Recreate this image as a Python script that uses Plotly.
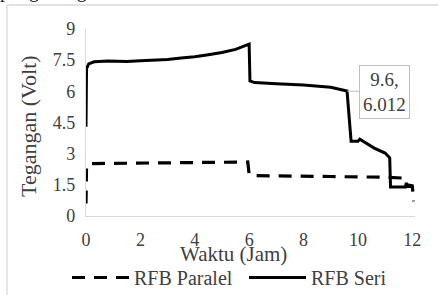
import plotly.graph_objects as go

# ---- data ----
seri_t = [0, 0.02, 0.1, 0.3, 0.8, 1.5, 2.0, 2.5, 3.0, 3.5, 4.0, 4.5, 5.0, 5.5, 5.95, 6.0,
          6.03, 6.2, 7.0, 8.0, 9.0, 9.6, 9.75, 10.0, 10.07, 10.6, 11.0, 11.17, 11.2,
          11.75, 11.78, 11.8, 12.0]
seri_v = [4.3, 7.1, 7.32, 7.42, 7.46, 7.44, 7.47, 7.49, 7.53, 7.6, 7.66, 7.76, 7.87, 8.02, 8.22, 8.27,
          6.5, 6.42, 6.36, 6.3, 6.2, 6.012, 3.6, 3.6, 3.7, 3.27, 3.03, 2.8, 1.4,
          1.4, 1.6, 1.42, 1.42]
par_t = [0, 0.02, 0.1, 1.0, 2.0, 3.0, 4.0, 5.0, 5.95, 6.0, 6.1, 7.0, 8.0, 9.0, 10.0, 11.0,
         11.75, 11.8, 12.0, 12.05]
par_v = [0.6, 2.4, 2.52, 2.53, 2.55, 2.55, 2.55, 2.57, 2.6, 2.0, 1.95, 1.93, 1.9, 1.9, 1.88, 1.87,
         1.82, 1.5, 1.45, 0.7]
x_ticks = [0, 2, 4, 6, 8, 10, 12]
y_ticks = [0, 1.5, 3, 4.5, 6, 7.5, 9]
y_tick_text = ["0", "1.5", "3", "4.5", "6", "7.5", "9"]
callout_t, callout_v = 9.6, 6.012

FONT = "Liberation Serif"
TXT = "#404040"
GRID = "#d9d9d9"

W, H = 438, 295
L, R, T, B = 86, 23, 29, 79
pw, ph = W - L - R, H - T - B


def px(xp):
    return (xp - L) / pw


def py(yp):
    return (H - B - yp) / ph


fig = go.Figure()
fig.add_trace(go.Scatter(x=par_t, y=par_v, mode="lines", name="RFB Paralel", legend="legend",
                         line=dict(color="black", width=3.2, dash="13px,9px")))
fig.add_trace(go.Scatter(x=seri_t, y=seri_v, mode="lines", name="RFB Seri", legend="legend2",
                         line=dict(color="black", width=3)))

leg_common = dict(orientation="h", yanchor="top", xanchor="left", itemwidth=57,
                  font=dict(family=FONT, size=20, color=TXT), bgcolor="rgba(0,0,0,0)")

fig.update_layout(
    width=W, height=H,
    margin=dict(l=L, r=R, t=T, b=B, pad=0, autoexpand=False),
    paper_bgcolor="white", plot_bgcolor="white",
    font=dict(family=FONT, size=18, color=TXT),
    showlegend=True,
    legend=dict(x=px(67), y=py(258), **leg_common),
    legend2=dict(x=px(244), y=py(258), **leg_common),
    xaxis=dict(range=[0, 12.1], tickvals=x_ticks, ticktext=[str(v) for v in x_ticks],
               showgrid=False, zeroline=False, showline=True, linecolor=GRID, linewidth=1.3,
               ticks="", ticklabelstandoff=7, automargin=False,
               tickfont=dict(family=FONT, size=18, color=TXT)),
    yaxis=dict(range=[0, 9], tickvals=y_ticks, ticktext=y_tick_text,
               showgrid=False, zeroline=False, showline=True, linecolor=GRID, linewidth=1.3,
               ticks="", ticklabelstandoff=6, automargin=False,
               tickfont=dict(family=FONT, size=18, color=TXT)),
)

# axis titles
fig.add_annotation(text="Waktu (Jam)", xref="paper", yref="paper", x=px(233), y=py(254),
                   showarrow=False, font=dict(family=FONT, size=21, color=TXT),
                   xanchor="center", yanchor="middle")
fig.add_annotation(text="Tegangan (Volt)", xref="paper", yref="paper", x=px(28), y=py(126),
                   showarrow=False, textangle=-90, font=dict(family=FONT, size=22, color=TXT),
                   xanchor="center", yanchor="middle")

# data callout
fig.add_annotation(text=f"{callout_t},<br>{callout_v}", x=callout_t, y=callout_v, xref="x", yref="y",
                   showarrow=True, arrowhead=0, arrowwidth=1, arrowcolor="#bfbfbf",
                   ax=37, ay=1, bordercolor="#bfbfbf", borderwidth=1, borderpad=3,
                   bgcolor="white", font=dict(family=FONT, size=19, color=TXT), align="center")

# document text cut at the top
fig.add_annotation(text="pengosongan.", xref="paper", yref="paper", x=px(-2), y=py(4),
                   showarrow=False, xanchor="left", yanchor="bottom",
                   font=dict(family=FONT, size=20, color="#222222"))

# chart-area border (top and left visible)
fig.add_shape(type="line", xref="paper", yref="paper", x0=px(7), x1=px(W + 5), y0=py(5), y1=py(5),
              line=dict(color=GRID, width=1.3))
fig.add_shape(type="line", xref="paper", yref="paper", x0=px(7), x1=px(7), y0=py(5), y1=py(H + 5),
              line=dict(color=GRID, width=1.3))

fig.write_html("out.html", config={"displayModeBar": False},
               post_script="document.body.style.margin='0';document.body.style.overflow='hidden';")
